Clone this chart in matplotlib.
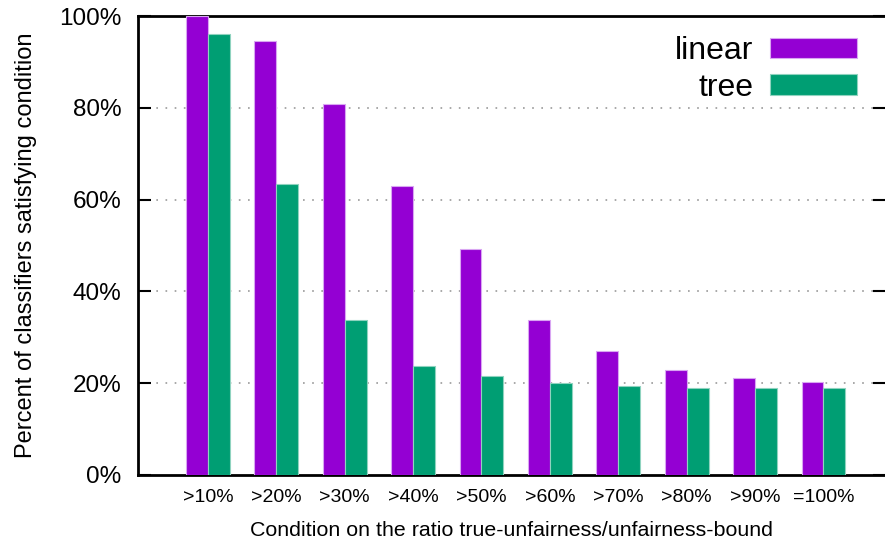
import numpy as np
import matplotlib
matplotlib.use("Agg")
import matplotlib.pyplot as plt

plt.rcParams['font.family'] = ['Liberation Sans', 'DejaVu Sans']

conditions = ['>10%', '>20%', '>30%', '>40%', '>50%', '>60%', '>70%', '>80%', '>90%', '=100%']
linear = [100.0, 94.5, 80.8, 62.9, 49.3, 33.8, 27.1, 22.9, 21.2, 20.3]
tree = [96.1, 63.5, 33.8, 23.8, 21.6, 20.1, 19.4, 19.0, 19.0, 19.0]

purple = '#9400d3'
green = '#009e73'

fig = plt.figure(figsize=(8.85, 5.39), dpi=100)
ax = fig.add_axes([0.156, 0.119, 0.844, 0.851])

x = np.arange(len(conditions))
w = 0.32
ax.bar(x - w / 2, linear, w, color=purple, edgecolor='#d9a6f2', linewidth=0.8,
       label='linear', zorder=3)
ax.bar(x + w / 2, tree, w, color=green, edgecolor='#8fd3bf', linewidth=0.8,
       label='tree', zorder=3)

ax.set_xlim(-1.02, 9.9)
ax.set_ylim(0, 100)
ax.set_yticks([0, 20, 40, 60, 80, 100])
ax.set_yticklabels(['%d%%' % v for v in [0, 20, 40, 60, 80, 100]], fontsize=17.5)
ax.set_xticks(x)
ax.set_xticklabels(conditions, fontsize=14)

ax.tick_params(axis='y', direction='in', length=9, width=1.5, right=True, pad=12)
ax.tick_params(axis='x', length=0, pad=10)

for s in ['left', 'bottom', 'top']:
    ax.spines[s].set_linewidth(2)
ax.spines['right'].set_visible(False)

for v in [20, 40, 60, 80]:
    ax.axhline(v, color='#999999', linewidth=1.2, linestyle=(0, (1, 4.5)), zorder=1)

ax.set_ylabel('Percent of classifiers satisfying condition', fontsize=17, labelpad=16)
ax.set_xlabel('Condition on the ratio true-unfairness/unfairness-bound', fontsize=15.4, labelpad=11)

ax.legend(loc='upper right', bbox_to_anchor=(0.993, 1.005), frameon=False, fontsize=23,
          markerfirst=False, handlelength=2.75, handleheight=0.63, handletextpad=0.5,
          labelspacing=0.2, borderpad=0.2)

fig.savefig('out.png', dpi=100)
